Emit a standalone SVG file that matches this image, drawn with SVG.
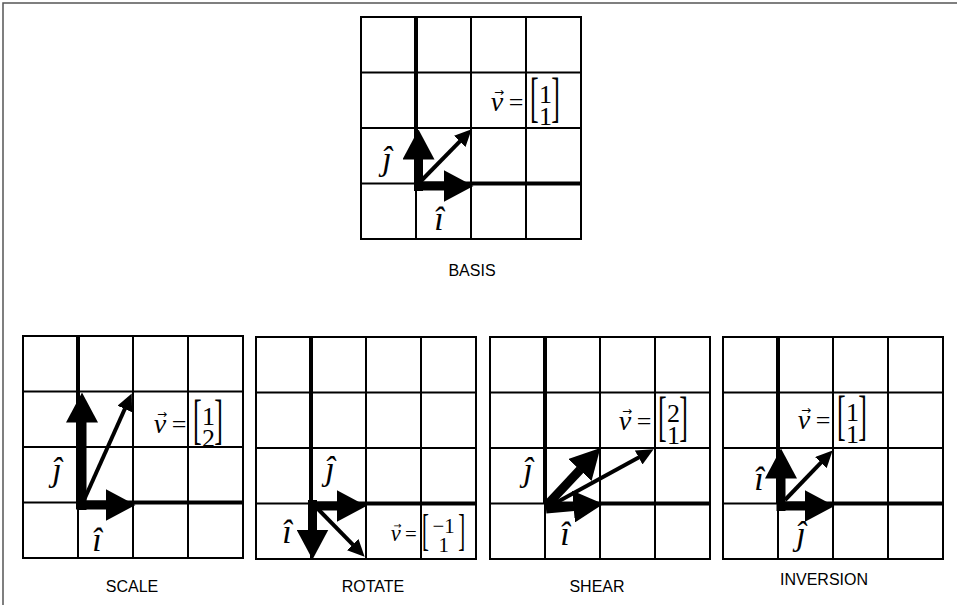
<svg xmlns="http://www.w3.org/2000/svg" width="957" height="605" viewBox="0 0 957 605">
<style>
.grid{fill:none;stroke:#000;stroke-width:2}
.axis{fill:none;stroke:#000;stroke-width:4}
.big{stroke:#000;stroke-width:9;fill:none;marker-end:url(#hb)}
.thin{stroke:#000;stroke-width:4;fill:none;marker-end:url(#hs)}
.m{font-family:"Liberation Serif","DejaVu Serif",serif;fill:#000}
.hat{font-style:italic;font-size:34px;text-anchor:middle}
.vv{font-style:italic;font-size:28px;text-anchor:middle}
.ar{font-family:"DejaVu Sans",sans-serif;font-size:12px;text-anchor:middle;fill:#000}
.eq{font-size:26px;text-anchor:middle}
.num{font-size:26px;text-anchor:middle}
.br{font-size:26px}
.cap{font-family:"Liberation Sans",Arial,sans-serif;font-size:16px;text-anchor:middle;fill:#000}
</style>
<defs>
<marker id="hb" markerUnits="userSpaceOnUse" viewBox="0 0 30 32" markerWidth="30" markerHeight="32" refX="0.5" refY="16" orient="auto"><path d="M0,0L30,16L0,32z" fill="#000"/></marker>
<marker id="hs" markerUnits="userSpaceOnUse" viewBox="0 0 17 16" markerWidth="17" markerHeight="16" refX="0.5" refY="8" orient="auto"><path d="M0,0L17,8L0,16z" fill="#000"/></marker>
<g id="grid">
<path class="grid" d="M0,0H220V222H0Z M55,0V222 M110,0V222 M165,0V222 M0,55.5H220 M0,111H220 M0,166.5H220"/>
<path class="axis" d="M55,0V166.5 M55,166.5H220"/>
</g>
</defs>
<rect x="3" y="3" width="1000" height="1000" fill="none" stroke="#555" stroke-width="1.5"/>

<g id="basis" transform="translate(361,17)">
<use href="#grid"/>
<g class="connectors">
<line class="big" x1="57.5" y1="174" x2="57.5" y2="142"/>
<line class="big" x1="53" y1="169" x2="83" y2="169"/>
<line class="thin" x1="60" y1="164" x2="99.1" y2="124.1"/>
</g>
<text class="m hat" x="26" y="153">ĵ</text>
<text class="m hat" x="78" y="213">î</text>
<g transform="translate(169,85)">
<text class="m vv" x="-33" y="9">v</text>
<text class="ar" x="-31" y="-6">→</text>
<text class="m eq" x="-14" y="9">=</text>
<text class="m br" transform="translate(0,14) scale(1,2.15)">[</text>
<text class="m br" text-anchor="end" transform="translate(30,14) scale(1,2.15)">]</text>
<text class="m num" x="15.5" y="1">1</text>
<text class="m num" x="15.5" y="23">1</text>
</g>
</g>
<text class="cap" x="472" y="276">BASIS</text>

<g id="scale" transform="translate(23,336)">
<use href="#grid"/>
<g class="connectors">
<line class="big" x1="59" y1="174" x2="59" y2="86"/>
<line class="big" x1="53" y1="169" x2="83" y2="169"/>
<line class="thin" x1="61" y1="164" x2="102" y2="72.5"/>
</g>
<text class="m hat" x="34" y="145">ĵ</text>
<text class="m hat" x="74" y="215">î</text>
<g transform="translate(170,88)">
<text class="m vv" x="-33" y="9">v</text>
<text class="ar" x="-31" y="-6">→</text>
<text class="m eq" x="-14" y="9">=</text>
<text class="m br" transform="translate(0,14) scale(1,2.15)">[</text>
<text class="m br" text-anchor="end" transform="translate(30,14) scale(1,2.15)">]</text>
<text class="m num" x="15.5" y="1">1</text>
<text class="m num" x="15.5" y="23">2</text>
</g>
</g>
<text class="cap" x="132" y="592">SCALE</text>

<g id="rotate" transform="translate(256,337)">
<use href="#grid"/>
<g class="connectors">
<line class="big" x1="52" y1="169" x2="81" y2="169"/>
<line class="big" x1="56.5" y1="163" x2="56.5" y2="193"/>
<line class="thin" x1="62" y1="172" x2="97.1" y2="207.9"/>
</g>
<text class="m hat" x="74" y="143">ĵ</text>
<text class="m hat" x="31" y="206">î</text>
<g transform="translate(166,197) scale(0.8)">
<text class="m vv" x="-33" y="9">v</text>
<text class="ar" x="-31" y="-6">→</text>
<text class="m eq" x="-14" y="9">=</text>
<text class="m br" transform="translate(0,14) scale(1,2.15)">[</text>
<text class="m br" text-anchor="end" transform="translate(54,14) scale(1,2.15)">]</text>
<text class="m num" x="27" y="-1">−1</text>
<text class="m num" x="27" y="23">1</text>
</g>
</g>
<text class="cap" x="373" y="592">ROTATE</text>

<g id="shear" transform="translate(490,337)">
<use href="#grid"/>
<g class="connectors">
<line class="big" x1="56" y1="172" x2="84" y2="169.5"/>
<line class="big" x1="57" y1="168" x2="90.2" y2="132.6"/>
<line class="thin" x1="60" y1="169" x2="149.1" y2="120.2"/>
</g>
<text class="m hat" x="38" y="144">ĵ</text>
<text class="m hat" x="75" y="208">î</text>
<g transform="translate(168,84)">
<text class="m vv" x="-33" y="9">v</text>
<text class="ar" x="-31" y="-6">→</text>
<text class="m eq" x="-14" y="9">=</text>
<text class="m br" transform="translate(0,14) scale(1,2.15)">[</text>
<text class="m br" text-anchor="end" transform="translate(30,14) scale(1,2.15)">]</text>
<text class="m num" x="15.5" y="1">2</text>
<text class="m num" x="15.5" y="23">1</text>
</g>
</g>
<text class="cap" x="597" y="592">SHEAR</text>

<g id="inversion" transform="translate(723,337)">
<use href="#grid"/>
<g class="connectors">
<line class="big" x1="58" y1="174" x2="58" y2="141"/>
<line class="big" x1="54" y1="169" x2="82" y2="169"/>
<line class="thin" x1="62" y1="163" x2="98.2" y2="125.3"/>
</g>
<text class="m hat" x="36" y="153">î</text>
<text class="m hat" x="78" y="208">ĵ</text>
<g transform="translate(114,83)">
<text class="m vv" x="-33" y="9">v</text>
<text class="ar" x="-31" y="-6">→</text>
<text class="m eq" x="-14" y="9">=</text>
<text class="m br" transform="translate(0,14) scale(1,2.15)">[</text>
<text class="m br" text-anchor="end" transform="translate(30,14) scale(1,2.15)">]</text>
<text class="m num" x="15.5" y="1">1</text>
<text class="m num" x="15.5" y="23">1</text>
</g>
</g>
<text class="cap" x="824" y="585">INVERSION</text>
</svg>
